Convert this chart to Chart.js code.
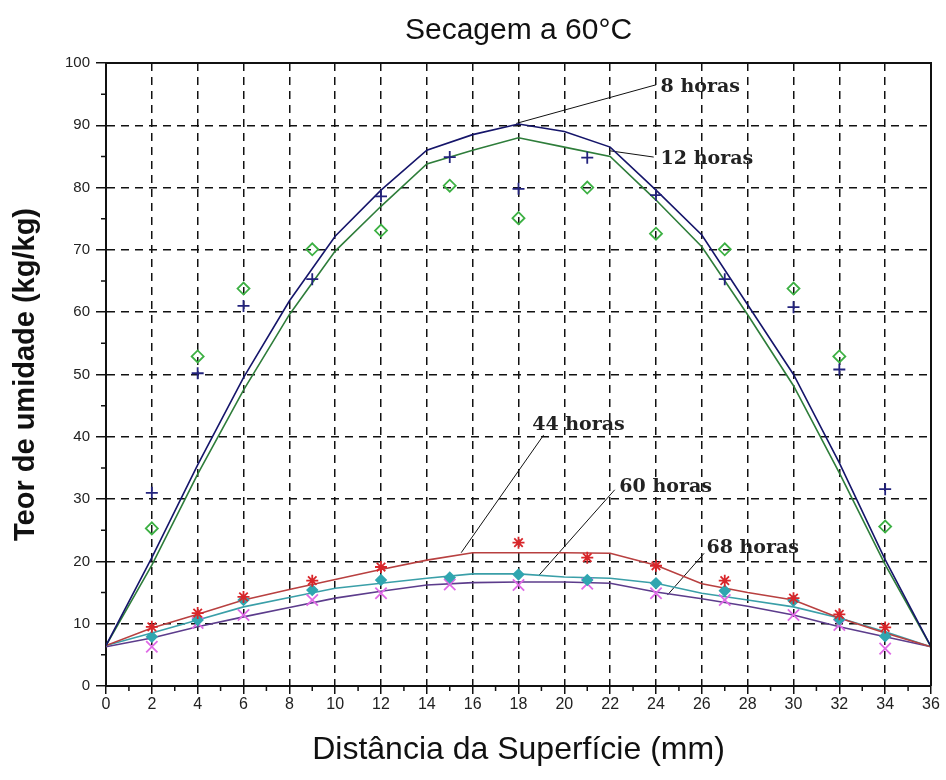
<!DOCTYPE html>
<html>
<head>
<meta charset="utf-8">
<title>Secagem a 60°C</title>
<script src="https://cdn.jsdelivr.net/npm/chart.js@4/dist/chart.umd.min.js"></script>
<style>
  html, body { margin: 0; padding: 0; background: #fff; }
  #wrap { width: 946px; height: 780px; }
</style>
</head>
<body>
<div id="wrap"><canvas id="secagem-chart"></canvas></div>
<script>
// simulated profiles, one value every 2 mm
const modelDist = [0, 2, 4, 6, 8, 10, 12, 14, 16, 18, 20, 22, 24, 26, 28, 30, 32, 34, 36];
const model8h = [6.5, 20.6, 35.5, 49.5, 61.8, 72.2, 79.6, 86.0, 88.5, 90.2, 89.0, 86.5, 79.6, 72.4, 61.2, 50.0, 35.8, 20.3, 6.3];
const model12h = [6.5, 19.4, 34.0, 47.5, 59.6, 69.8, 77.0, 83.8, 86.0, 88.0, 86.5, 85.0, 78.0, 70.5, 59.6, 48.2, 34.2, 19.5, 6.3];
const model44h = [6.5, 9.3, 11.5, 13.8, 15.5, 17.1, 18.7, 20.2, 21.4, 21.4, 21.4, 21.3, 19.4, 16.4, 15.0, 13.8, 10.9, 8.5, 6.3];
const model60h = [6.5, 8.5, 10.6, 12.7, 14.2, 15.7, 16.5, 17.3, 18.0, 18.0, 17.5, 17.3, 16.5, 14.9, 13.8, 12.7, 10.9, 8.7, 6.3];
const model68h = [6.3, 7.7, 9.5, 11.1, 12.6, 14.1, 15.2, 16.2, 16.6, 16.7, 16.7, 16.5, 15.1, 14.0, 12.8, 11.4, 9.5, 7.9, 6.3];

// measured moisture content
const sampleDist = [2, 4, 6, 9, 12, 15, 18, 21, 24, 27, 30, 32, 34];
const measured8h = [31.0, 50.2, 61.0, 65.3, 78.6, 84.9, 79.8, 84.8, 78.8, 65.3, 60.8, 50.8, 31.6];
const measured12h = [25.3, 52.9, 63.8, 70.1, 73.1, 80.3, 75.1, 80.0, 72.6, 70.1, 63.8, 52.9, 25.6];
const measured44h = [9.5, 11.7, 14.3, 16.9, 19.1, null, 23.0, 20.6, 19.3, 16.9, 14.1, 11.5, 9.4];
const measured60h = [7.9, 10.6, 13.8, 15.4, 17.0, 17.4, 17.9, 17.0, 16.5, 15.3, 13.7, 10.7, 8.0];
const measured68h = [6.3, 10.1, 11.4, 13.8, 14.9, 16.3, 16.2, 16.4, 14.9, 13.8, 11.4, 9.8, 6.0];

// curve labels and their leader lines (data units)
const curveLabels = ["8 horas", "12 horas", "44 horas", "60 horas", "68 horas"];
const labelX = [24.2, 24.2, 18.6, 22.4, 26.2];
const labelY = [95.3, 83.8, 41.1, 31.1, 21.3];
const leaderFrom = [[17.9, 90.3], [22.0, 85.9], [15.5, 21.4], [18.9, 17.8], [24.5, 14.6]];
const leaderTo = [[24.0, 96.5], [23.9, 84.9], [19.1, 40.3], [22.2, 31.5], [26.1, 21.3]];

const pairs = (xs, ys) => xs.map((x, i) => ({ x: x, y: ys[i] }));

function modelLine(values, color) {
  return {
    showLine: true,
    data: pairs(modelDist, values),
    borderColor: color,
    borderWidth: 1.6,
    pointRadius: 0,
    tension: 0,
    order: 2,
  };
}

function samples(values, style, color, radius, fill) {
  return {
    data: pairs(sampleDist, values),
    pointStyle: style,
    pointRadius: radius,
    pointBorderColor: color,
    pointBackgroundColor: fill,
    pointBorderWidth: 1.8,
    order: 1,
  };
}

const leaders = leaderFrom.map((p, i) => ({
  showLine: true,
  data: [{ x: p[0], y: p[1] }, { x: leaderTo[i][0], y: leaderTo[i][1] }],
  borderColor: "#111",
  borderWidth: 1,
  pointRadius: 0,
  order: 3,
}));

const frameAndLabels = {
  id: "frameAndLabels",
  afterDraw(chart) {
    const { ctx, chartArea: a, scales } = chart;
    const x = scales.x, y = scales.y;
    ctx.save();
    ctx.strokeStyle = "#111";
    ctx.lineWidth = 2;
    ctx.beginPath();
    ctx.moveTo(a.left, a.top);
    ctx.lineTo(a.right, a.top);
    ctx.lineTo(a.right, a.bottom);
    ctx.stroke();

    // minor ticks
    ctx.lineWidth = 1.5;
    ctx.beginPath();
    for (let v = 1; v < 36; v += 2) {
      const px = x.getPixelForValue(v);
      ctx.moveTo(px, a.bottom);
      ctx.lineTo(px, a.bottom + 5);
    }
    for (let v = 5; v < 100; v += 10) {
      const py = y.getPixelForValue(v);
      ctx.moveTo(a.left - 5, py);
      ctx.lineTo(a.left, py);
    }
    ctx.stroke();

    ctx.font = "bold 19px 'DejaVu Serif'";
    ctx.fillStyle = "#222";
    ctx.textBaseline = "alphabetic";
    curveLabels.forEach((t, i) => {
      ctx.fillText(t, x.getPixelForValue(labelX[i]), y.getPixelForValue(labelY[i]));
    });
    ctx.restore();
  },
};

new Chart(document.getElementById("secagem-chart"), {
  type: "scatter",
  data: {
    datasets: [
      samples(measured8h, "cross", "#23237d", 6, "#23237d"),
      samples(measured12h, "rectRot", "#3cb043", 6, "rgba(0,0,0,0)"),
      samples(measured44h, "star", "#d8262a", 6, "#d8262a"),
      samples(measured60h, "rectRot", "#30a6b0", 5, "#30a6b0"),
      samples(measured68h, "crossRot", "#df6ae6", 8, "#df6ae6"),
      modelLine(model8h, "#15156a"),
      modelLine(model12h, "#2e7d3a"),
      modelLine(model44h, "#b84040"),
      modelLine(model60h, "#3a9fa8"),
      modelLine(model68h, "#5c3c8c"),
      ...leaders,
    ],
  },
  options: {
    responsive: true,
    maintainAspectRatio: false,
    animation: false,
    layout: { padding: { left: 0, right: 15, top: 0, bottom: 0 } },
    scales: {
      x: {
        type: "linear",
        min: 0,
        max: 36,
        afterFit: (s) => { s.height = 94; },
        ticks: {
          stepSize: 2,
          color: "#222",
          padding: 1,
          maxRotation: 0,
          font: { size: 16, family: "'Liberation Sans', Arial, sans-serif" },
        },
        grid: {
          color: "#111",
          lineWidth: 1.5,
          tickLength: 8,
          tickColor: "#111",
          tickWidth: 1.5,
        },
        border: { display: true, color: "#111", width: 2, dash: [8, 6] },
        title: {
          display: true,
          text: "Distância da Superfície (mm)",
          color: "#111",
          padding: { top: 0, bottom: 11 },
          font: { size: 32, family: "'Liberation Sans', Arial, sans-serif" },
        },
      },
      y: {
        min: 0,
        max: 100,
        afterFit: (s) => { s.width = 106; },
        ticks: {
          stepSize: 10,
          color: "#222",
          padding: 6,
          font: { size: 15, family: "'Liberation Sans', Arial, sans-serif" },
        },
        grid: {
          color: "#111",
          lineWidth: 1.5,
          tickLength: 10,
          tickColor: "#111",
          tickWidth: 1.5,
        },
        border: { display: true, color: "#111", width: 2, dash: [8, 6] },
        title: {
          display: true,
          text: "Teor de umidade (kg/kg)",
          color: "#111",
          padding: { top: 9, bottom: 0 },
          font: { size: 29, weight: "bold", family: "'Liberation Sans', Arial, sans-serif" },
        },
      },
    },
    plugins: {
      legend: { display: false },
      tooltip: { enabled: false },
      title: {
        display: true,
        fullSize: false,
        text: "Secagem a 60°C",
        color: "#111",
        padding: { top: 13, bottom: 14 },
        font: { size: 30, weight: "normal", family: "'Liberation Sans', Arial, sans-serif" },
      },
    },
  },
  plugins: [frameAndLabels],
});
</script>
</body>
</html>
